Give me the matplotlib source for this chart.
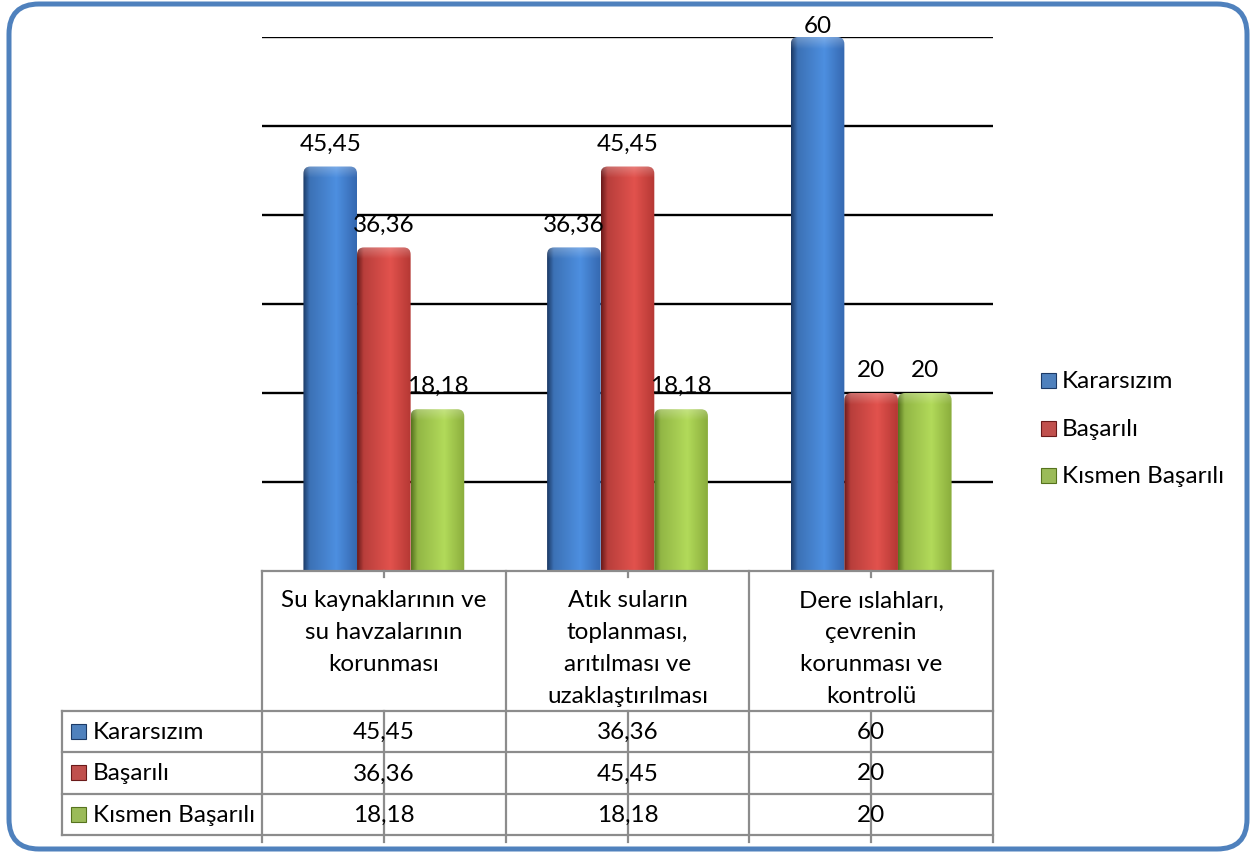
import numpy as np
import matplotlib
matplotlib.use("Agg")
import matplotlib.pyplot as plt
from matplotlib.path import Path
from matplotlib.patches import PathPatch, Rectangle, FancyBboxPatch
from matplotlib.colors import to_rgb

plt.rcParams['font.family'] = ['Lato', 'DejaVu Sans']

# ---- data -------------------------------------------------------------
categories = [
    ["Su kaynaklarının ve", "su havzalarının", "korunması"],
    ["Atık suların", "toplanması,", "arıtılması ve", "uzaklaştırılması"],
    ["Dere ıslahları,", "çevrenin", "korunması ve", "kontrolü"],
]
series_names = ["Kararsızım", "Başarılı", "Kısmen Başarılı"]
kararsizim = [45.45, 36.36, 60]
basarili = [36.36, 45.45, 20]
kismen_basarili = [18.18, 18.18, 20]
series_values = [kararsizim, basarili, kismen_basarili]
y_ticks = [10, 20, 30, 40, 50, 60]

# shading stops per series: dark left edge, bright highlight, right edge
series_shades = [
    ("#1c3a66", "#4d8fe0", "#3568b0"),
    ("#6a1a1a", "#e2524d", "#b53834"),
    ("#56731e", "#b2da5a", "#8aad3c"),
]
series_base = ["#4f81bd", "#c0504d", "#9bbb59"]

FS = 17.5


def fmt(v):
    return f"{v:g}".replace(".", ",")


W, H = 1251, 854
fig = plt.figure(figsize=(W / 100, H / 100), dpi=100)

# plot area (pixel box 262..993 x 38..572)
px_l, px_r, px_t, px_b = 262, 993, 38, 572
ax = fig.add_axes([px_l / W, 1 - px_b / H, (px_r - px_l) / W, (px_b - px_t) / H])
ax.set_xlim(-0.5, 2.5)
ax.set_ylim(0, 60)
ax.axis("off")
for yv in y_ticks:
    ax.axhline(yv, color="black", lw=1.7, zorder=0)

ppu_x = (px_r - px_l) / 3.0
ppu_y = (px_b - px_t) / 60.0
bar_w = 0.22
rx = 7 / ppu_x
ry = 7 / ppu_y
label_gap_px = 17      # gap between bar top and label baseline
label_min_top_px = 33  # labels are kept below this line of the frame


def shade_image(shades, h, nrow=400, ncol=80):
    dark, light, right = (np.array(to_rgb(c)) for c in shades)
    t = np.linspace(0, 1, ncol)
    stops_t = [0.0, 0.12, 0.62, 1.0]
    mid = dark * 0.35 + light * 0.65
    stops_c = [dark, mid, light, right]
    row = np.zeros((ncol, 3))
    for k in range(3):
        row[:, k] = np.interp(t, stops_t, [c[k] for c in stops_c])
    img = np.repeat(row[None, :, :], nrow, axis=0)
    ys = np.linspace(0, h, nrow)
    rim = np.clip(1 - (h - ys) / (1.6 * ry), 0, 1)[:, None, None] * 0.25
    img = img * (1 - rim) + rim
    return np.clip(img, 0, 1)


for i, (vals, shades) in enumerate(zip(series_values, series_shades)):
    xs = np.arange(3) + (i - 1) * bar_w
    bars = ax.bar(xs, vals, width=bar_w, color=series_base[i], lw=0, zorder=2)
    for rect, v in zip(bars, vals):
        x0 = rect.get_x()
        x1 = x0 + rect.get_width()
        h = rect.get_height()
        verts = [(x0, 0), (x0, h - ry), (x0, h), (x0 + rx, h), (x1 - rx, h),
                 (x1, h), (x1, h - ry), (x1, 0), (x0, 0)]
        codes = [Path.MOVETO, Path.LINETO, Path.CURVE3, Path.CURVE3, Path.LINETO,
                 Path.CURVE3, Path.CURVE3, Path.LINETO, Path.CLOSEPOLY]
        clip = PathPatch(Path(verts, codes), fc="none", ec="none", transform=ax.transData)
        ax.add_patch(clip)
        im = ax.imshow(shade_image(shades, h), extent=(x0, x1, 0, h), origin="lower",
                       aspect="auto", interpolation="bilinear", zorder=3)
        im.set_clip_path(clip)
        rect.set_visible(False)
        top_px = px_b - h * ppu_y
        gap = min(label_gap_px, top_px - label_min_top_px)
        ax.annotate(fmt(v), (rect.get_x() + rect.get_width() / 2, h),
                    xytext=(0, gap * 0.72), textcoords="offset points",
                    ha="center", va="baseline", fontsize=FS, color="black",
                    zorder=5, annotation_clip=False)

ax.set_xlim(-0.5, 2.5)
ax.set_ylim(0, 60)

# ---- overlay in pixel coordinates: frame, data table, legend ---------
ov = fig.add_axes([0, 0, 1, 1])
ov.set_xlim(0, W)
ov.set_ylim(H, 0)
ov.axis("off")
ov.patch.set_visible(False)

frame = FancyBboxPatch((9, 5), 1238, 845, boxstyle="round,pad=0,rounding_size=30",
                       fc="none", ec="#4f81bd", lw=3.6)
ov.add_patch(frame)

grey = "#8c8c8c"
col_edges = [px_l + k * ppu_x for k in range(4)]
col_centers = [px_l + (k + 0.5) * ppu_x for k in range(3)]
row_edges = [712, 753, 795, 836]
table_left = 62
bottom_ext = 843

ov.plot([px_l, px_r], [px_b, px_b], color=grey, lw=1.6)
for ye in row_edges:
    ov.plot([table_left, px_r], [ye, ye], color=grey, lw=1.6)
for xe in col_edges:
    ov.plot([xe, xe], [px_b, bottom_ext], color=grey, lw=1.6)
ov.plot([table_left, table_left], [row_edges[0], row_edges[-1]], color=grey, lw=1.6)
for xc in col_centers:
    ov.plot([xc, xc], [px_b, px_b + 6], color=grey, lw=1.6)
    ov.plot([xc, xc], [row_edges[0], bottom_ext], color=grey, lw=1.6)

# category header cells
for xc, lines in zip(col_centers, categories):
    for j, line in enumerate(lines):
        ov.text(xc, 601 + 32 * j, line, ha="center", va="center", fontsize=FS)

# data rows
for r, (name, vals) in enumerate(zip(series_names, series_values)):
    yc = (row_edges[r] + row_edges[r + 1]) / 2
    ov.add_patch(Rectangle((71, yc - 8), 15, 15, fc=series_base[r],
                           ec=series_shades[r][0], lw=0.8))
    ov.text(93, yc, name, ha="left", va="center", fontsize=FS)
    for xc, v in zip(col_centers, vals):
        ov.text(xc, yc, fmt(v), ha="center", va="center", fontsize=FS)

# legend
legend_y = [382, 430, 477]
for name, yc, base, shades in zip(series_names, legend_y, series_base, series_shades):
    ov.add_patch(Rectangle((1041, yc - 8), 15, 15, fc=base, ec=shades[0], lw=0.8))
    ov.text(1062, yc, name, ha="left", va="center", fontsize=FS)

fig.savefig("out.png", dpi=100)
